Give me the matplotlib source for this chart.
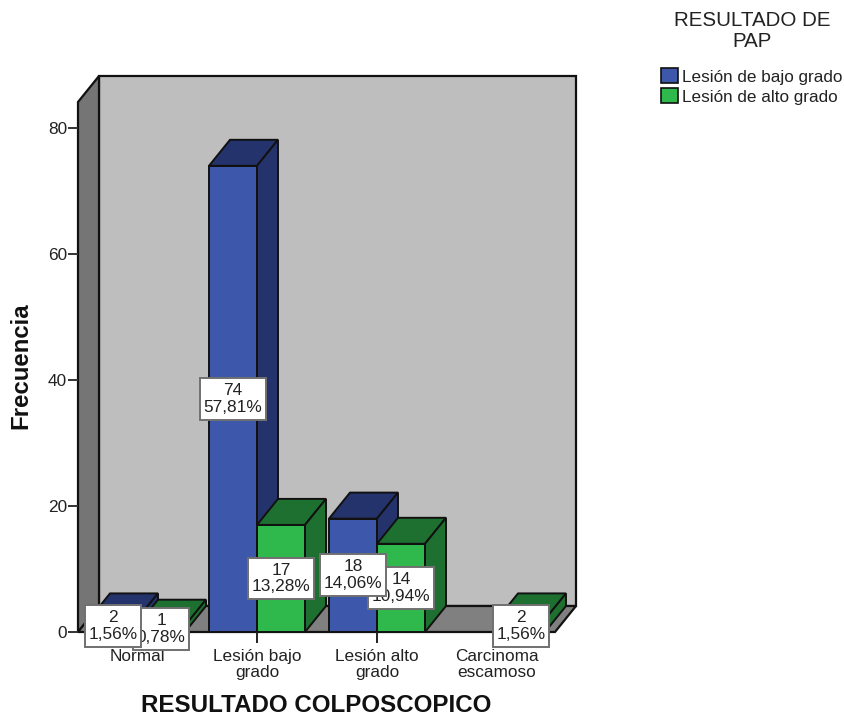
import matplotlib
matplotlib.use("Agg")
from matplotlib import pyplot as plt
from matplotlib.patches import Patch, Polygon
from matplotlib.path import Path

plt.rcParams["font.family"] = ["Liberation Sans", "DejaVu Sans"]

categories = ["Normal", "Lesión bajo\ngrado", "Lesión alto\ngrado", "Carcinoma\nescamoso"]
series_names = ["Lesión de bajo grado", "Lesión de alto grado"]
bajo_counts = [2, 74, 18, 0]
alto_counts = [1, 17, 14, 2]
bajo_pct = ["1,56%", "57,81%", "14,06%", ""]
alto_pct = ["0,78%", "13,28%", "10,94%", "1,56%"]
y_ticks = [0, 20, 40, 60, 80]

TEXT = "#222222"
EDGE = "#111111"
# front, top, side
BLUE = ("#3d57aa", "#24336b", "#24336b")
GREEN = ("#2fb84b", "#1e7030", "#1e7030")

W, H = 845, 717
BAR = 0.4
DX = 21 / 120      # depth of the fake 3d, data units
DY = 26 / 6.3


def label_box(x0, y0, width, height, mutation_size):
    # labels have more room above and below than at the sides
    px, py = 3.5, 5
    x1, y1 = x0 + width + px, y0 + height + py
    x0, y0 = x0 - px, y0 - py
    return Path([(x0, y0), (x1, y0), (x1, y1), (x0, y1), (x0, y0)], closed=True)


def bar3d(ax, x, h, colors):
    # x is the left edge of the front face
    ax.bar(x, h, BAR, align="edge", color=colors[0], edgecolor=EDGE, linewidth=1.4, zorder=3)
    x1 = x + BAR
    ax.add_patch(Polygon([(x, h), (x1, h), (x1 + DX, h + DY), (x + DX, h + DY)], closed=True,
                         facecolor=colors[1], edgecolor=EDGE, linewidth=1.4, zorder=3, clip_on=False))
    ax.add_patch(Polygon([(x1, 0), (x1 + DX, DY), (x1 + DX, h + DY), (x1, h)], closed=True,
                         facecolor=colors[2], edgecolor=EDGE, linewidth=1.4, zorder=3, clip_on=False))


def main():
    fig = plt.figure(figsize=(W / 100, H / 100), dpi=100)
    ax = fig.add_axes([78 / W, 85 / H, 477 / W, 530 / H])
    ax.set_xlim((78 - 137) / 120, (555 - 137) / 120)
    ax.set_ylim(0, 530 / 6.3)
    x0, x1 = ax.get_xlim()
    top = ax.get_ylim()[1]

    # walls and floor
    wall = dict(closed=True, edgecolor=EDGE, linewidth=1.6, zorder=1, clip_on=False)
    ax.add_patch(Polygon([(x0 + DX, DY), (x1 + DX, DY), (x1 + DX, top + DY), (x0 + DX, top + DY)],
                         facecolor="#bebebe", **wall))
    ax.add_patch(Polygon([(x0, 0), (x0 + DX, DY), (x0 + DX, top + DY), (x0, top)],
                         facecolor="#757575", **wall))
    ax.add_patch(Polygon([(x0, 0), (x1, 0), (x1 + DX, DY), (x0 + DX, DY)],
                         facecolor="#808080", **wall))

    for spine in ax.spines.values():
        spine.set_visible(False)
    ax.patch.set_visible(False)

    for i in range(len(categories)):
        if bajo_counts[i]:
            bar3d(ax, i - BAR, bajo_counts[i], BLUE)
        if alto_counts[i]:
            bar3d(ax, i, alto_counts[i], GREEN)

    box = dict(boxstyle=label_box, facecolor="white", edgecolor="#707070", linewidth=1.4)
    # green labels go under the blue ones
    for i, (n, p) in enumerate(zip(alto_counts, alto_pct)):
        if n:
            ax.text(i + BAR / 2, n / 2, f"{n}\n{p}", ha="center", va="center", fontsize=12.4, color=TEXT,
                    linespacing=1.15, bbox=box, zorder=5, clip_on=False)
    for i, (n, p) in enumerate(zip(bajo_counts, bajo_pct)):
        if n:
            ax.text(i - BAR / 2, n / 2, f"{n}\n{p}", ha="center", va="center", fontsize=12.4, color=TEXT,
                    linespacing=1.15, bbox=box, zorder=6, clip_on=False)

    ax.set_xticks(range(len(categories)))
    ax.set_xticklabels(categories, fontsize=12.4, color=TEXT, linespacing=1.08)
    ax.set_yticks(y_ticks)
    ax.tick_params(axis="y", labelsize=12.4, labelcolor=TEXT, length=7, width=1.4, color="#333333", pad=1)
    ax.tick_params(axis="x", length=8, width=1.4, color="#222222", pad=4)

    fig.text(316 / W, 1 - 706 / H, "RESULTADO COLPOSCOPICO", fontsize=17.4, fontweight="bold",
             ha="center", va="center", color="#111111")
    fig.text(21 / W, 1 - 366 / H, "Frecuencia", fontsize=17.3, fontweight="bold", rotation=90,
             ha="center", va="center", color="#111111")

    fig.text(752 / W, 1 - 31 / H, "RESULTADO DE\nPAP", fontsize=14.8, ha="center", va="center",
             color=TEXT, linespacing=1.1)
    handles = [Patch(facecolor=BLUE[0], edgecolor=EDGE, linewidth=1.2),
               Patch(facecolor=GREEN[0], edgecolor=EDGE, linewidth=1.2)]
    leg = fig.legend(handles, series_names, loc="upper left",
                     bbox_to_anchor=(661 / W, 1 - 68 / H), frameon=False, fontsize=12.35,
                     handlelength=1.0, handleheight=1.0, handletextpad=0.2, labelspacing=0.2,
                     borderpad=0, borderaxespad=0)
    for t in leg.get_texts():
        t.set_color(TEXT)

    fig.savefig("out.png", dpi=100)


if __name__ == "__main__":
    main()
